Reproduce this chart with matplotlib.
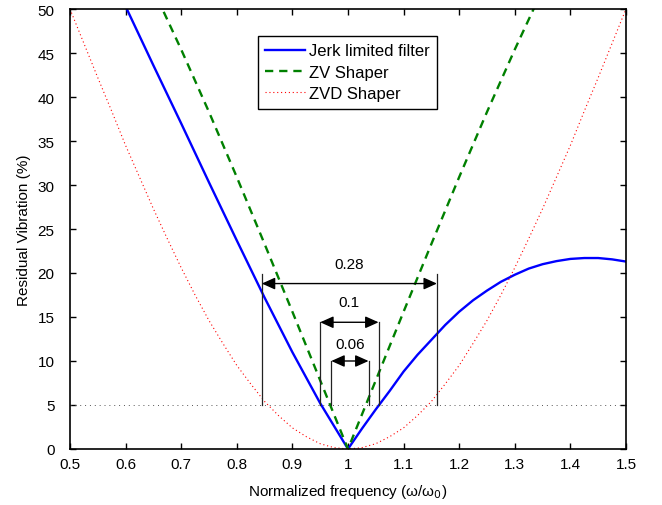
import matplotlib
matplotlib.use('Agg')
import matplotlib.pyplot as plt

plt.rcParams['font.family'] = ['Liberation Sans', 'DejaVu Sans']
plt.rcParams['font.size'] = 11

# jerk limited filter
w_jerk = [0.5, 0.55, 0.6, 0.65, 0.7, 0.75, 0.8, 0.85, 0.9, 0.95, 1.0,
          1.025, 1.05, 1.075, 1.1, 1.125, 1.15, 1.175, 1.2, 1.225, 1.25,
          1.275, 1.3, 1.325, 1.35, 1.375, 1.4, 1.425, 1.45, 1.475, 1.5]
v_jerk = [63.5, 57.0, 50.3, 43.6, 37.0, 30.3, 23.7, 17.2, 11.0, 5.2, 0.0,
          2.3, 4.5, 6.6, 8.8, 10.7, 12.4, 14.1, 15.6, 16.9, 18.0,
          19.0, 19.8, 20.5, 21.0, 21.35, 21.6, 21.7, 21.7, 21.55, 21.3]

# ZV shaper
w_zv = [0.5, 0.55, 0.6, 0.65, 0.7, 0.75, 0.8, 0.85, 0.9, 0.95, 1.0,
        1.05, 1.1, 1.15, 1.2, 1.25, 1.3, 1.35, 1.4, 1.45, 1.5]
v_zv = [70.7, 64.9, 58.8, 52.2, 45.4, 38.3, 30.9, 23.3, 15.6, 7.8, 0.0,
        7.8, 15.6, 23.3, 30.9, 38.3, 45.4, 52.2, 58.8, 64.9, 70.7]

# ZVD shaper
w_zvd = [0.5, 0.525, 0.55, 0.575, 0.6, 0.625, 0.65, 0.675, 0.7, 0.725,
         0.75, 0.775, 0.8, 0.825, 0.85, 0.875, 0.9, 0.925, 0.95, 0.975,
         1.0, 1.025, 1.05, 1.075, 1.1, 1.125, 1.15, 1.175, 1.2, 1.225,
         1.25, 1.275, 1.3, 1.325, 1.35, 1.375, 1.4, 1.425, 1.45, 1.475, 1.5]
v_zvd = [50.0, 46.1, 42.2, 38.4, 34.5, 30.9, 27.3, 23.9, 20.6, 17.5,
         14.6, 12.0, 9.5, 7.4, 5.4, 3.8, 2.4, 1.4, 0.6, 0.15,
         0.0, 0.15, 0.6, 1.4, 2.4, 3.8, 5.4, 7.4, 9.5, 12.0,
         14.6, 17.5, 20.6, 23.9, 27.3, 30.9, 34.5, 38.4, 42.2, 46.1, 50.0]

level = 5
band_lo = [0.845, 0.95, 0.97]
band_hi = [1.16, 1.055, 1.037]
band_txt = ['0.28', '0.1', '0.06']
band_top = [19.9, 14.4, 10.0]
band_arrow = [18.8, 14.4, 10.0]
band_label = [21.0, 16.7, 11.9]

fig = plt.figure(figsize=(6.62, 5.06), dpi=100)
ax = fig.add_axes([0.1057, 0.1107, 0.8399, 0.8695])

ax.plot(w_jerk, v_jerk, color='#0000ff', lw=1.7, label='Jerk limited filter')
ax.plot(w_zv, v_zv, color='#008000', lw=1.7, ls=(0, (3.5, 2.5)), label='ZV Shaper')
ax.plot(w_zvd, v_zvd, color='#ff0000', lw=0.8, ls=(0, (1, 2.5)), label='ZVD Shaper')

ax.axhline(level, color='#555555', lw=0.7, ls=(0, (1, 4)))

for lo, hi, t, top, ya, yl in zip(band_lo, band_hi, band_txt, band_top, band_arrow, band_label):
    ax.plot([lo, lo], [level, top], color='#222222', lw=0.9)
    ax.plot([hi, hi], [level, top], color='#222222', lw=0.9)
    ax.annotate('', xy=(hi, ya), xytext=(lo, ya),
                arrowprops=dict(arrowstyle='<|-|>,head_length=0.4,head_width=0.18',
                                mutation_scale=20, color='black', lw=1.0,
                                shrinkA=0, shrinkB=0))
    ax.text((lo + hi) / 2, yl, t, ha='center', va='center', fontsize=11)

ax.set_xlim(0.5, 1.5)
ax.set_ylim(0, 50)
ax.set_xticks([0.5, 0.6, 0.7, 0.8, 0.9, 1.0, 1.1, 1.2, 1.3, 1.4, 1.5])
ax.set_xticklabels(['0.5', '0.6', '0.7', '0.8', '0.9', '1', '1.1', '1.2', '1.3', '1.4', '1.5'])
ax.set_yticks(range(0, 51, 5))
ax.tick_params(direction='in', top=True, right=True, length=4, width=1, labelsize=11)
ax.tick_params(axis='x', pad=6)
ax.tick_params(axis='y', pad=11)
for s in ax.spines.values():
    s.set_linewidth(1.2)

ax.set_xlabel('Normalized frequency (\u03c9/\u03c9$_0$)', fontsize=11, labelpad=8)
ax.set_ylabel('Residual Vibration (%)', fontsize=11, labelpad=5)

leg = ax.legend(loc='upper left', bbox_to_anchor=(0.338, 0.939), borderaxespad=0,
                fancybox=False, framealpha=1, edgecolor='black', handlelength=2.35,
                handletextpad=0.25, fontsize=12, borderpad=0.45, labelspacing=0.38)
leg.get_frame().set_linewidth(1.0)

fig.savefig('out.png', dpi=100)
